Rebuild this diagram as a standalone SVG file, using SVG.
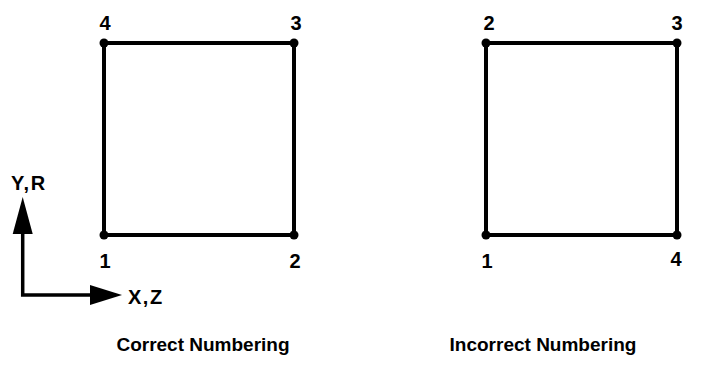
<svg xmlns="http://www.w3.org/2000/svg" width="707" height="375" viewBox="0 0 707 375">
<style>
.edge{fill:none;stroke:#000;stroke-width:4;stroke-linejoin:miter}
.dot{fill:#000}
.num{font-family:"Liberation Sans",Arial,sans-serif;font-weight:bold;font-size:20px;fill:#000;text-anchor:middle}
.ax{font-family:"Liberation Sans",Arial,sans-serif;font-weight:bold;font-size:20px;fill:#000;letter-spacing:1.5px}
.cap{font-family:"Liberation Sans",Arial,sans-serif;font-weight:bold;font-size:19px;fill:#000;text-anchor:middle}
.axl{fill:none;stroke:#000;stroke-width:3.5}
</style>
<rect width="707" height="375" fill="#fff"/>
<g id="correct">
<rect class="edge" x="104" y="43" width="190" height="192"/>
<circle class="dot" cx="104" cy="43" r="4.5"/>
<circle class="dot" cx="294" cy="43" r="4.5"/>
<circle class="dot" cx="294" cy="235" r="4.5"/>
<circle class="dot" cx="104" cy="235" r="4.5"/>
<text class="num" x="105" y="30">4</text>
<text class="num" x="296" y="30">3</text>
<text class="num" x="105" y="268">1</text>
<text class="num" x="295" y="268">2</text>
<text class="cap" x="203" y="351">Correct Numbering</text>
</g>
<g id="incorrect">
<rect class="edge" x="486" y="43" width="191" height="192"/>
<circle class="dot" cx="486" cy="43" r="4.5"/>
<circle class="dot" cx="677" cy="43" r="4.5"/>
<circle class="dot" cx="677" cy="235" r="4.5"/>
<circle class="dot" cx="486" cy="235" r="4.5"/>
<text class="num" x="489" y="30">2</text>
<text class="num" x="677" y="30">3</text>
<text class="num" x="487" y="268">1</text>
<text class="num" x="676" y="266">4</text>
<text class="cap" x="543" y="351">Incorrect Numbering</text>
</g>
<g id="axes">
<path class="axl" d="M22.7,232 V295 H92"/>
<polygon points="22.7,197 12.7,234 32.7,234" fill="#000"/>
<polygon points="122,295 90,285 90,305" fill="#000"/>
<text class="ax" x="11" y="190">Y,R</text>
<text class="ax" x="128" y="304">X,Z</text>
</g>
</svg>
